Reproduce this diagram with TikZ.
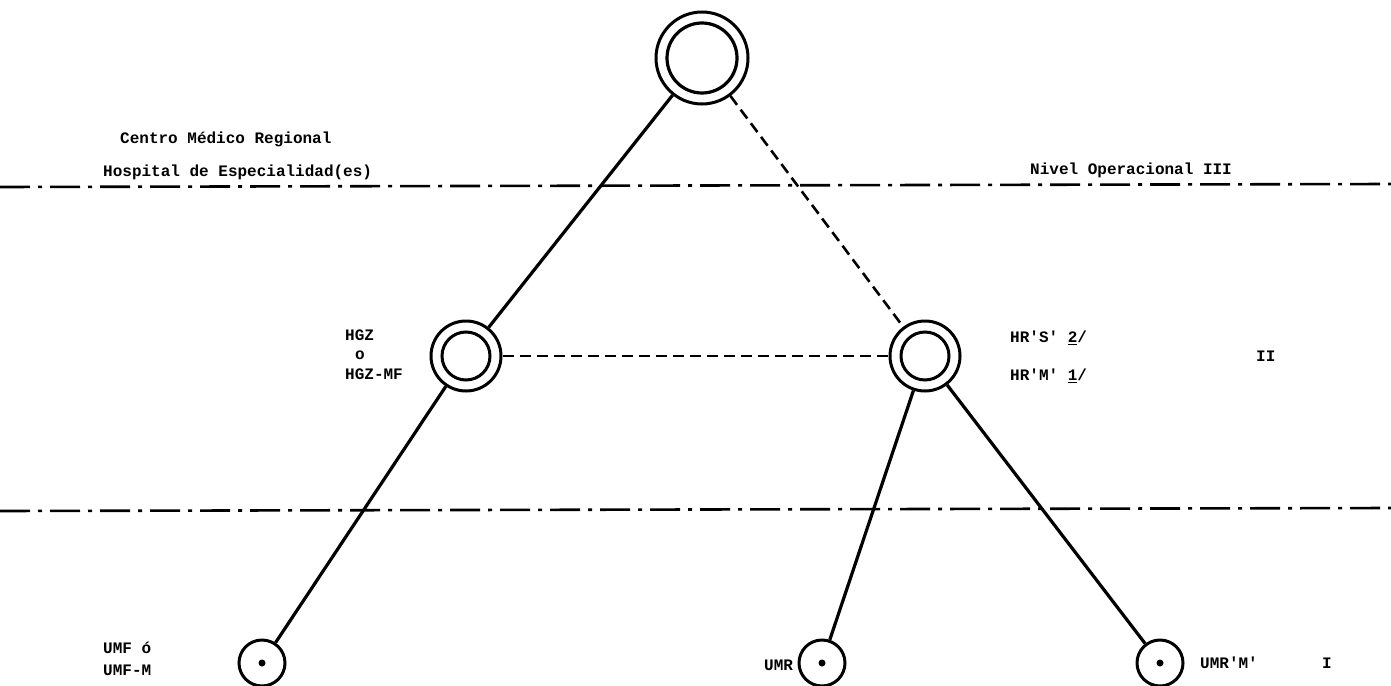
\documentclass[tikz,border=0pt]{standalone}
\usepackage{fontspec}
\setmonofont{Liberation Mono}
\begin{document}
\begin{tikzpicture}[x=1pt,y=-1pt,
  solidline/.style={line width=3.2pt},
  dashline/.style={line width=2.6pt,dash pattern=on 11pt off 6pt},
  dashdot/.style={line width=2.6pt,dash pattern=on 30pt off 8pt on 4pt off 8pt},
  bignode/.style={circle,draw,line width=3pt,minimum size=#1,inner sep=0pt},
  smallnode/.style={circle,draw,line width=3pt,minimum size=46pt,inner sep=0pt},
  lbl/.style={font=\ttfamily\bfseries\fontsize{16}{18}\selectfont,inner sep=0pt,anchor=west},
]
\useasboundingbox (0,0) rectangle (1391,685);
% nodes
\node[bignode=92pt] (top) at (702,58) {};
\draw[line width=3.2pt] (top.center) circle (35pt);
\node[bignode=70pt] (lm) at (466,356) {};
\draw[line width=3pt] (lm.center) circle (24pt);
\node[bignode=70pt] (rm) at (925,356) {};
\draw[line width=3pt] (rm.center) circle (24pt);
\node[smallnode] (bl) at (262,663) {};
\fill (bl.center) circle (3.5pt);
\node[smallnode] (bm) at (822,663) {};
\fill (bm.center) circle (3.5pt);
\node[smallnode] (br) at (1160,663) {};
\fill (br.center) circle (3.5pt);
% level lines
\coordinate (l1a) at (0,187);
\coordinate (l1b) at (1391,184);
\coordinate (l2a) at (0,511);
\coordinate (l2b) at (1391,508);
\draw[dashdot] (l1a) -- (l1b);
\draw[dashdot] (l2a) -- (l2b);
% connectors
\draw[solidline] (top) -- (lm);
\draw[dashline] (top) -- (rm);
\draw[dashline] (lm) -- (rm);
\draw[solidline] (lm) -- (bl);
\draw[solidline] (rm) -- (bm);
\draw[solidline] (rm) -- (br);
% labels
\node[lbl] (t1) at (120,139) {Centro Médico Regional};
\node[lbl] (t2) at (103,172) {Hospital de Especialidad(es)};
\node[lbl] (t3) at (1030,170) {Nivel Operacional III};
\node[lbl] (t4) at (345,335) {HGZ};
\node[lbl] (t5) at (355,355) {o};
\node[lbl] (t6) at (345,374) {HGZ-MF};
\node[lbl] (t7) at (1010,338) {HR'S' \underline{2}/};
\node[lbl] (t8) at (1010,376) {HR'M' \underline{1}/};
\node[lbl] (t9) at (1256,356) {II};
\node[lbl] (t10) at (103,648) {UMF ó};
\node[lbl] (t11) at (103,670) {UMF-M};
\node[lbl] (t12) at (764,665) {UMR};
\node[lbl] (t13) at (1200,663) {UMR'M'};
\node[lbl] (t14) at (1322,663) {I};
\end{tikzpicture}
\end{document}
